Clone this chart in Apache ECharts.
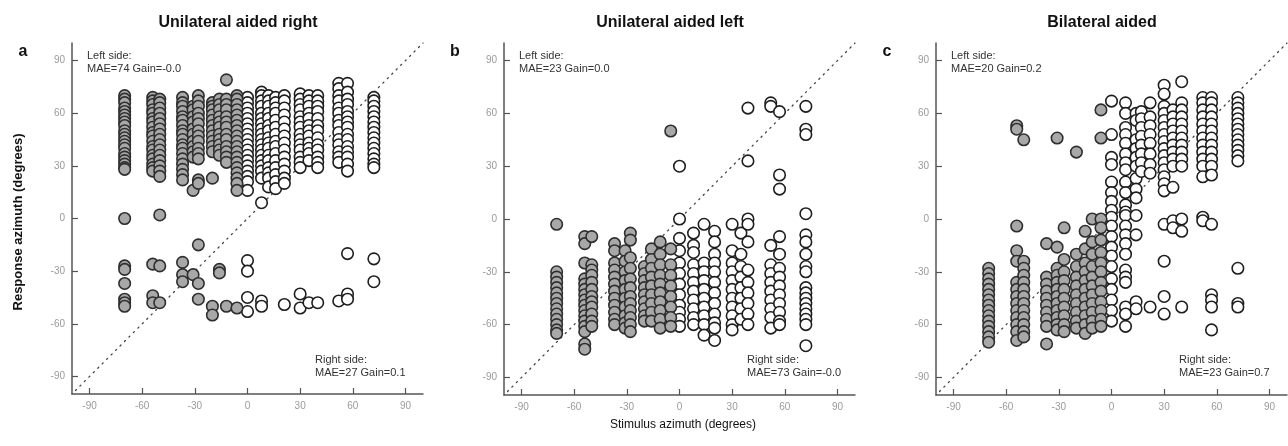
<!DOCTYPE html>
<html>
<head>
<meta charset="utf-8">
<script src="https://cdn.jsdelivr.net/npm/echarts@6/dist/echarts.min.js"></script>
<style>
  html, body { margin: 0; padding: 0; background: #fff; }
  #main { width: 1288px; height: 446px; }
</style>
</head>
<body>
<div id="main"></div>
<script>
// tick values shared by every axis
const tickVals = [-90, -60, -30, 0, 30, 60, 90];

const titles = ['Unilateral aided right', 'Unilateral aided left', 'Bilateral aided'];
const letters = ['a', 'b', 'c'];
const leftStats = ['MAE=74 Gain=-0.0', 'MAE=23 Gain=0.0', 'MAE=20 Gain=0.2'];
const rightStats = ['MAE=27 Gain=0.1', 'MAE=73 Gain=-0.0', 'MAE=23 Gain=0.7'];

// panel a: stimulus columns and responses per column
const colsA = [-70, -54, -50, -37, -31, -28, -20, -16, -12, -6, 0, 8, 12, 16, 21, 30, 35, 40, 52, 57, 72];
const respA = [
  [70, 68, 66, 63, 61, 59, 57, 55, 53, 50, 48, 46, 44, 42, 40, 37, 35, 33, 31, 29, 28, 0, -27, -29, -37, -46, -48, -50],
  [69, 67, 65, 62, 60, 57, 55, 52, 49, 47, 44, 41, 39, 36, 34, 31, 29, 27, -26, -44, -48],
  [68, 66, 63, 60, 57, 54, 51, 48, 45, 42, 39, 36, 33, 30, 27, 24, 2, -27, -48],
  [69, 66, 64, 61, 58, 56, 53, 50, 48, 45, 42, 40, 37, 34, 31, 28, 25, 22, -25, -32, -36],
  [64, 62, 58, 55, 51, 48, 44, 41, 38, 35, 16, -32],
  [70, 67, 64, 60, 57, 54, 50, 47, 44, 40, 37, 34, 22, 20, -15, -37, -46],
  [66, 64, 62, 59, 56, 53, 50, 47, 44, 41, 38, 23, -50, -55],
  [68, 65, 62, 58, 55, 52, 48, 45, 42, 39, 36, -29, -31],
  [79, 68, 65, 62, 58, 55, 52, 48, 45, 41, 38, 35, 32, -50],
  [70, 68, 65, 62, 59, 56, 53, 50, 47, 44, 41, 38, 35, 32, 29, 26, 23, 20, 16, -51],
  [69, 66, 63, 60, 57, 54, 51, 48, 45, 42, 39, 36, 33, 30, 27, 24, 21, 16, -24, -30, -45, -53],
  [72, 70, 67, 64, 60, 57, 54, 51, 48, 45, 42, 39, 36, 33, 30, 27, 23, 9, -47, -50],
  [70, 67, 64, 60, 57, 53, 50, 46, 43, 40, 36, 33, 29, 26, 23, 18],
  [69, 66, 63, 60, 56, 52, 48, 44, 41, 37, 33, 29, 25, 21, 17],
  [70, 67, 63, 59, 55, 51, 47, 43, 39, 35, 31, 27, 23, 20, -49],
  [71, 68, 65, 62, 58, 55, 52, 48, 45, 42, 39, 35, 32, 29, -43, -51],
  [70, 67, 64, 60, 57, 53, 50, 47, 43, 40, 37, 33, -48],
  [70, 67, 64, 61, 57, 53, 50, 46, 42, 39, 35, 32, 29, -48],
  [77, 74, 70, 67, 63, 60, 56, 53, 49, 45, 42, 38, 35, 32, -47],
  [77, 72, 68, 65, 61, 58, 55, 52, 48, 45, 41, 38, 35, 31, 27, -20, -43, -46],
  [69, 67, 64, 61, 58, 55, 52, 49, 46, 43, 40, 37, 34, 31, 29, -23, -36]
];

// panel b
const colsB = [-70, -54, -50, -37, -31, -28, -20, -16, -11, -5, 0, 8, 14, 20, 30, 35, 39, 52, 57, 72];
const respB = [
  [-3, -30, -33, -36, -39, -42, -45, -48, -51, -54, -57, -60, -63, -65],
  [-10, -14, -25, -34, -37, -40, -43, -46, -49, -52, -55, -58, -61, -64, -71, -74],
  [-10, -26, -29, -32, -36, -40, -44, -47, -50, -54, -58, -61],
  [-14, -18, -25, -29, -33, -37, -41, -45, -49, -53, -57, -60],
  [-18, -24, -30, -35, -40, -45, -50, -55, -59, -62],
  [-8, -12, -22, -28, -34, -39, -44, -48, -52, -56, -60, -64],
  [-27, -31, -35, -39, -43, -47, -51, -55, -58],
  [-17, -23, -28, -33, -38, -43, -48, -53, -58],
  [-13, -20, -26, -32, -37, -42, -47, -52, -57, -62],
  [50, -17, -26, -32, -38, -44, -50, -56, -61],
  [30, 0, -11, -18, -25, -31, -37, -43, -49, -53, -57, -61],
  [-8, -15, -19, -26, -31, -36, -41, -46, -51, -56, -60],
  [-3, -25, -30, -35, -40, -45, -50, -55, -60, -66],
  [-7, -13, -20, -25, -30, -36, -42, -48, -54, -59, -62, -69],
  [-3, -18, -25, -30, -35, -40, -45, -50, -55, -60, -63],
  [-8, -20, -27, -33, -39, -45, -51, -57],
  [63, 33, 0, -3, -13, -29, -36, -42, -48, -54, -60],
  [66, 64, -15, -26, -31, -36, -41, -46, -51, -56, -62],
  [61, 25, 17, -10, -20, -28, -33, -38, -43, -48, -53, -58, -60],
  [64, 51, 48, 3, -9, -13, -20, -27, -30, -39, -42, -45, -48, -51, -54, -57, -60, -72]
];

// panel c
const colsC = [-70, -54, -50, -37, -31, -27, -20, -15, -11, -6, 0, 8, 14, 17, 22, 30, 35, 40, 52, 57, 72];
const respC = [
  [-28, -31, -34, -37, -40, -43, -46, -49, -52, -55, -58, -61, -64, -67, -70],
  [53, 51, -4, -18, -24, -36, -40, -44, -48, -52, -56, -60, -64, -69],
  [45, -24, -28, -32, -36, -40, -44, -48, -52, -56, -60, -64, -67],
  [-14, -33, -37, -41, -45, -49, -53, -57, -61, -71],
  [46, -16, -28, -32, -36, -40, -44, -48, -52, -56, -60, -63],
  [-5, -23, -30, -35, -40, -45, -50, -55, -60, -64],
  [38, -20, -27, -33, -38, -43, -48, -53, -58, -62],
  [-7, -17, -25, -30, -35, -40, -45, -50, -55, -60, -65],
  [0, -13, -20, -27, -33, -38, -43, -48, -53, -58, -62],
  [62, 46, 0, -5, -12, -19, -25, -30, -36, -41, -47, -52, -57, -61],
  [67, 48, 35, 31, 21, 15, 10, 5, 1, -4, -10, -16, -21, -27, -34, -40, -46, -52, -58],
  [66, 60, 52, 48, 43, 37, 32, 28, 21, 15, 8, 4, 2, -4, -9, -14, -20, -29, -33, -36, -50, -54, -61],
  [60, 56, 45, 40, 35, 30, 23, 17, 12, 2, -9, -47, -51],
  [61, 57, 52, 47, 42, 37, 32, 27],
  [66, 58, 53, 48, 43, 37, 31, 26, -50],
  [76, 71, 64, 60, 56, 52, 48, 44, 40, 36, 32, 28, 24, 20, 16, -3, -24, -44, -54],
  [62, 58, 54, 50, 46, 42, 38, 34, 30, 18, -1, -5],
  [78, 66, 62, 58, 54, 50, 46, 42, 38, 34, 30, 0, -7, -50],
  [69, 66, 62, 58, 54, 50, 46, 42, 38, 34, 30, 24, 1, -1],
  [69, 66, 62, 58, 54, 50, 46, 42, 38, 34, 30, 25, -3, -43, -46, -50, -63],
  [69, 66, 63, 60, 57, 54, 51, 48, 45, 42, 39, 36, 33, -28, -48, -50]
];

const panels = [[colsA, respA], [colsB, respB], [colsC, respC]];

function toPoints(cols, resp, leftSide) {
  const out = [];
  cols.forEach((x, i) => {
    if ((x < 0) === leftSide) resp[i].forEach(y => out.push([x, y]));
  });
  return out;
}

const grids = [
  { left: 72, top: 43, width: 351, height: 351 },
  { left: 504, top: 43, width: 351, height: 352 },
  { left: 936, top: 43, width: 351, height: 352 }
];

const font = 'Liberation Sans, Arial, sans-serif';

function axis(i) {
  return {
    type: 'value',
    gridIndex: i,
    min: -100,
    max: 100,
    axisLine: { onZero: false, lineStyle: { color: '#555', width: 1.5 } },
    axisTick: { inside: true, length: 6, customValues: tickVals, lineStyle: { color: '#555', width: 1.2 } },
    axisLabel: { customValues: tickVals, color: '#9a9a9a', fontSize: 10, fontFamily: font, margin: 7 },
    splitLine: { show: false }
  };
}

const chart = echarts.init(document.getElementById('main'));

const series = [];
const graphics = [];
panels.forEach((p, i) => {
  series.push({
    type: 'line',
    xAxisIndex: i,
    yAxisIndex: i,
    data: [[-98, -98], [100, 100]],
    symbol: 'none',
    silent: true,
    z: 1,
    lineStyle: { color: '#444', width: 1.3, type: [1.3, 5], cap: 'round' }
  });
  series.push({
    type: 'scatter',
    xAxisIndex: i,
    yAxisIndex: i,
    data: toPoints(p[0], p[1], false),
    symbolSize: 11.5,
    z: 2,
    itemStyle: { color: '#fff', borderColor: '#1e1e1e', borderWidth: 1.6, opacity: 1 }
  });
  series.push({
    type: 'scatter',
    xAxisIndex: i,
    yAxisIndex: i,
    data: toPoints(p[0], p[1], true),
    symbolSize: 11.5,
    z: 3,
    itemStyle: { color: '#a8a8a8', borderColor: '#2e2e2e', borderWidth: 1.6, opacity: 1 }
  });

  const g = grids[i];
  graphics.push({
    type: 'text', x: g.left + 166, y: 23,
    style: { text: titles[i], font: 'bold 16px ' + font, fill: '#111', textAlign: 'center', textVerticalAlign: 'middle' }
  });
  graphics.push({
    type: 'text', x: g.left - 49, y: 52,
    style: { text: letters[i], font: 'bold 16px ' + font, fill: '#111', textAlign: 'center', textVerticalAlign: 'middle' }
  });
  graphics.push({
    type: 'text', x: g.left + 15, y: 49,
    style: { text: 'Left side:\n' + leftStats[i], font: '11px ' + font, fill: '#333', lineHeight: 13 }
  });
  graphics.push({
    type: 'text', x: g.left + 243, y: 353,
    style: { text: 'Right side:\n' + rightStats[i], font: '11px ' + font, fill: '#333', lineHeight: 13 }
  });
});

graphics.push({
  type: 'text', x: 18, y: 222, rotation: Math.PI / 2,
  style: { text: 'Response azimuth (degrees)', font: 'bold 13px ' + font, fill: '#111', textAlign: 'center', textVerticalAlign: 'middle' }
});
graphics.push({
  type: 'text', x: 683, y: 425,
  style: { text: 'Stimulus azimuth (degrees)', font: '12px ' + font, fill: '#111', textAlign: 'center', textVerticalAlign: 'middle' }
});

chart.setOption({
  animation: false,
  grid: grids,
  xAxis: [axis(0), axis(1), axis(2)],
  yAxis: [axis(0), axis(1), axis(2)],
  series: series,
  graphic: graphics
});
</script>
</body>
</html>
